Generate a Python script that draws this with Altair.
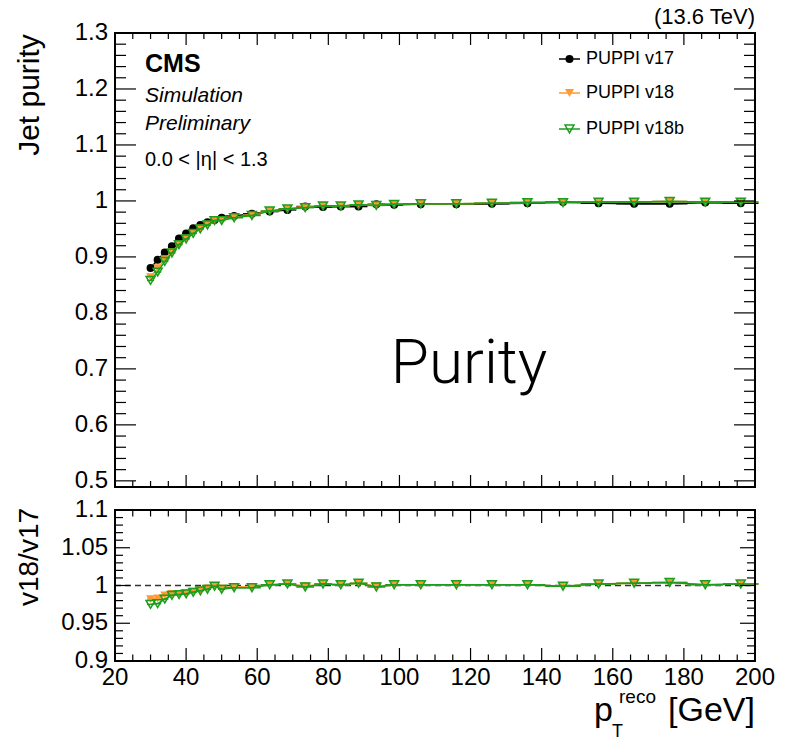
import altair as alt
import numpy as np
import pandas as pd

# ---------------------------------------------------------------- data
# reco pT bin edges [GeV]
pt_edges = [29, 31, 33, 35, 37, 39, 41, 43, 45, 47, 49, 51,
            56, 61, 66, 71, 76, 81, 86, 91, 96, 101,
            111, 121, 131, 141, 151, 161, 171, 181, 191, 201]

# jet purity per bin
purity_v17 = [0.880, 0.895, 0.908, 0.919, 0.933, 0.942, 0.951, 0.957, 0.962, 0.966, 0.970,
              0.973, 0.977, 0.981, 0.984, 0.990, 0.989, 0.990, 0.990, 0.994, 0.993,
              0.994, 0.994, 0.995, 0.996, 0.998, 0.996, 0.995, 0.995, 0.997, 0.996]
purity_v18 = [0.864, 0.880, 0.896, 0.909, 0.923, 0.933, 0.943, 0.951, 0.958, 0.965, 0.966,
              0.971, 0.975, 0.982, 0.986, 0.989, 0.991, 0.991, 0.993, 0.993, 0.994,
              0.995, 0.995, 0.996, 0.997, 0.997, 0.998, 0.998, 0.999, 0.998, 0.998]
purity_v18b = [0.858, 0.873, 0.892, 0.907, 0.922, 0.932, 0.942, 0.950, 0.957, 0.965, 0.965,
               0.970, 0.974, 0.982, 0.986, 0.988, 0.991, 0.991, 0.993, 0.992, 0.994,
               0.995, 0.995, 0.996, 0.997, 0.997, 0.998, 0.998, 0.999, 0.998, 0.998]

# ratio to v17
ratio_v18 = [0.982, 0.983, 0.987, 0.989, 0.989, 0.990, 0.992, 0.994, 0.996, 0.999, 0.996,
             0.998, 0.998, 1.001, 1.002, 0.999, 1.002, 1.001, 1.003, 0.999, 1.001,
             1.001, 1.001, 1.001, 1.001, 0.999, 1.002, 1.003, 1.004, 1.001, 1.002]
ratio_v18b = [0.975, 0.976, 0.982, 0.987, 0.988, 0.989, 0.991, 0.993, 0.995, 0.999, 0.995,
              0.997, 0.997, 1.001, 1.002, 0.998, 1.002, 1.001, 1.003, 0.998, 1.001,
              1.001, 1.001, 1.001, 1.001, 0.999, 1.002, 1.003, 1.004, 1.001, 1.002]

series_names = ["PUPPI v17", "PUPPI v18", "PUPPI v18b"]
series_colors = ["#000000", "#ff9933", "#1c9e1c"]
series_shapes = ["circle", "triangle-down", "triangle-down"]
series_filled = [True, True, False]
series_sizes = [64, 81, 81]

x_major = [20, 40, 60, 80, 100, 120, 140, 160, 180, 200]
top_y_major = [0.5, 0.6, 0.7, 0.8, 0.9, 1.0, 1.1, 1.2, 1.3]
bot_y_major = [0.9, 0.95, 1.0, 1.05, 1.1]

# ---------------------------------------------------------------- layout
FONT = "Liberation Sans"
W, H = 640, 628                 # whole drawing area (both pads)
TOP_H = 454                     # bottom edge of the upper pad
BOT_T, BOT_B = 477, 628         # lower pad edges
TOP_YMIN = 0.489

x_scale = alt.Scale(domain=[20, 200], nice=False, zero=False)
top_scale = alt.Scale(domain=[TOP_YMIN, 1.3], range=[TOP_H, 0], nice=False, zero=False)
bot_scale = alt.Scale(domain=[0.9, 1.1], range=[BOT_B, BOT_T], nice=False, zero=False)

lo = pt_edges[:-1]
hi = pt_edges[1:]
centers = [(a + b) / 2 for a, b in zip(lo, hi)]


def frame_df(values):
    return pd.DataFrame({"pt": centers, "lo": lo, "hi": hi, "val": values})


def X(field="pt"):
    return alt.X(f"{field}:Q", scale=x_scale, axis=None)


def Y(scale, field="val"):
    return alt.Y(f"{field}:Q", scale=scale, axis=None)


def series_layers(values, idx, scale):
    df = frame_df(values)
    color = series_colors[idx]
    base = alt.Chart(df)
    line = base.mark_line(color=color, strokeWidth=1.5).encode(x=X(), y=Y(scale))
    err = base.mark_rule(color=color, strokeWidth=1.5).encode(
        x=X("lo"), x2="hi:Q", y=Y(scale))
    pts = base.mark_point(
        shape=series_shapes[idx], filled=series_filled[idx], size=series_sizes[idx],
        color=color, opacity=1, strokeWidth=1.5,
    ).encode(x=X(), y=Y(scale))
    return [line, err, pts]


layers = []

# upper pad: purity
for i, vals in enumerate([purity_v17, purity_v18, purity_v18b]):
    layers += series_layers(vals, i, top_scale)

# lower pad: reference line and ratios
ref = alt.Chart(pd.DataFrame({"val": [1.0]})).mark_rule(
    color="#333333", strokeWidth=1.5, strokeDash=[6, 4]
).encode(y=Y(bot_scale), x=alt.value(0), x2=alt.value(W))
layers.append(ref)
for i, vals in [(1, ratio_v18), (2, ratio_v18b)]:
    layers += series_layers(vals, i, bot_scale)


# ---------------------------------------------------------------- frames and ticks
def rng(a, b, step):
    return [round(v, 4) for v in np.arange(a, b + step / 2, step)]


x_minor = [v for v in rng(20, 200, 5) if v not in x_major]
top_y_minor = [v for v in rng(0.5, 1.3, 0.02) if round(v, 4) not in [round(m, 4) for m in top_y_major]]
bot_y_minor = [v for v in rng(0.9, 1.1, 0.01) if round(v, 4) not in [round(m, 4) for m in bot_y_major]]


def yticks(vals, scale, length):
    df = pd.DataFrame({"val": vals})
    left = alt.Chart(df).mark_rule(color="black", strokeWidth=1.2).encode(
        y=Y(scale), x=alt.value(0), x2=alt.value(length))
    right = alt.Chart(df).mark_rule(color="black", strokeWidth=1.2).encode(
        y=Y(scale), x=alt.value(W - length), x2=alt.value(W))
    return [left, right]


def xticks(vals, top_px, bottom_px, length):
    df = pd.DataFrame({"pt": vals})
    up = alt.Chart(df).mark_rule(color="black", strokeWidth=1.2).encode(
        x=X(), y=alt.value(top_px), y2=alt.value(top_px + length))
    down = alt.Chart(df).mark_rule(color="black", strokeWidth=1.2).encode(
        x=X(), y=alt.value(bottom_px - length), y2=alt.value(bottom_px))
    return [up, down]


layers += yticks(top_y_major, top_scale, 21)
layers += yticks(top_y_minor, top_scale, 11)
layers += yticks(bot_y_major, bot_scale, 15)
layers += yticks(bot_y_minor, bot_scale, 8)
layers += xticks(x_major, 0, TOP_H, 12)
layers += xticks(x_minor, 0, TOP_H, 6)
layers += xticks(x_major, BOT_T, BOT_B, 13)
layers += xticks(x_minor, BOT_T, BOT_B, 6.5)

one = pd.DataFrame({"k": [0]})
for y0, y1 in [(0, TOP_H), (BOT_T, BOT_B)]:
    layers.append(alt.Chart(one).mark_rect(
        fillOpacity=0, stroke="black", strokeWidth=2
    ).encode(x=alt.value(0), x2=alt.value(W), y=alt.value(y0), y2=alt.value(y1)))

# tick labels
top_lab = pd.DataFrame({"val": top_y_major, "txt": [f"{v:g}" for v in top_y_major]})
bot_lab = pd.DataFrame({"val": bot_y_major, "txt": [f"{v:g}" for v in bot_y_major]})
x_lab = pd.DataFrame({"pt": x_major, "txt": [str(v) for v in x_major]})
layers.append(alt.Chart(top_lab).mark_text(
    font=FONT, fontSize=24, align="right", baseline="middle", color="black"
).encode(y=Y(top_scale), x=alt.value(-7), text="txt:N"))
layers.append(alt.Chart(bot_lab).mark_text(
    font=FONT, fontSize=24, align="right", baseline="middle", color="black"
).encode(y=Y(bot_scale), x=alt.value(-7), text="txt:N"))
layers.append(alt.Chart(x_lab).mark_text(
    font=FONT, fontSize=24, align="center", baseline="alphabetic", color="black"
).encode(x=X(), y=alt.value(652), text="txt:N"))


# ---------------------------------------------------------------- texts
def label(text, x, y, size, align="left", baseline="alphabetic", **kw):
    return alt.Chart(pd.DataFrame({"t": [text]})).mark_text(
        font=kw.pop("font", FONT), fontSize=size, align=align, baseline=baseline,
        color="black", **kw
    ).encode(x=alt.value(x), y=alt.value(y), text="t:N")


layers += [
    label("Jet purity", -85, 62, 30, align="center", baseline="middle", angle=270),
    label("v18/v17", -85, 524, 28, align="center", baseline="middle", angle=270),
    # p_T^reco [GeV]
    label("p", 498, 688, 34, align="right"),
    label("T", 497, 704, 18),
    label("reco", 541, 670, 19, align="right"),
    label("[GeV]", 640, 688, 34, align="right"),
    label("(13.6 TeV)", 640, -9, 22, align="right"),
    label("CMS", 30, 39, 25, fontWeight="bold"),
    label("Simulation", 30, 69, 21, fontStyle="italic"),
    label("Preliminary", 30, 97, 21, fontStyle="italic"),
    label("0.0 < |η| < 1.3", 30, 133, 20),
    label("Purity", 354, 350, 62, align="center", font="Roboto", fontWeight=300),
]

# legend
for i, name in enumerate(series_names):
    yy = [26, 60, 96][i]
    color = series_colors[i]
    d = pd.DataFrame({"t": [name]})
    layers.append(alt.Chart(d).mark_rule(color=color, strokeWidth=1.5).encode(
        x=alt.value(444), x2=alt.value(465), y=alt.value(yy)))
    layers.append(alt.Chart(d).mark_point(
        shape=series_shapes[i], filled=series_filled[i], size=series_sizes[i],
        color=color, opacity=1, strokeWidth=1.5
    ).encode(x=alt.value(454.5), y=alt.value(yy)))
    layers.append(alt.Chart(d).mark_text(
        font=FONT, fontSize=18, align="left", baseline="middle", color="black"
    ).encode(x=alt.value(471), y=alt.value(yy), text="t:N"))

chart = alt.layer(*layers).resolve_scale(y="independent").properties(
    width=W,
    height=H,
    autosize=alt.AutoSizeParams(type="none"),
    padding={"left": 115, "top": 33, "right": 33, "bottom": 80},
).configure_view(strokeWidth=0)

chart.save("out.html", embed_options={"renderer": "svg", "actions": False})
